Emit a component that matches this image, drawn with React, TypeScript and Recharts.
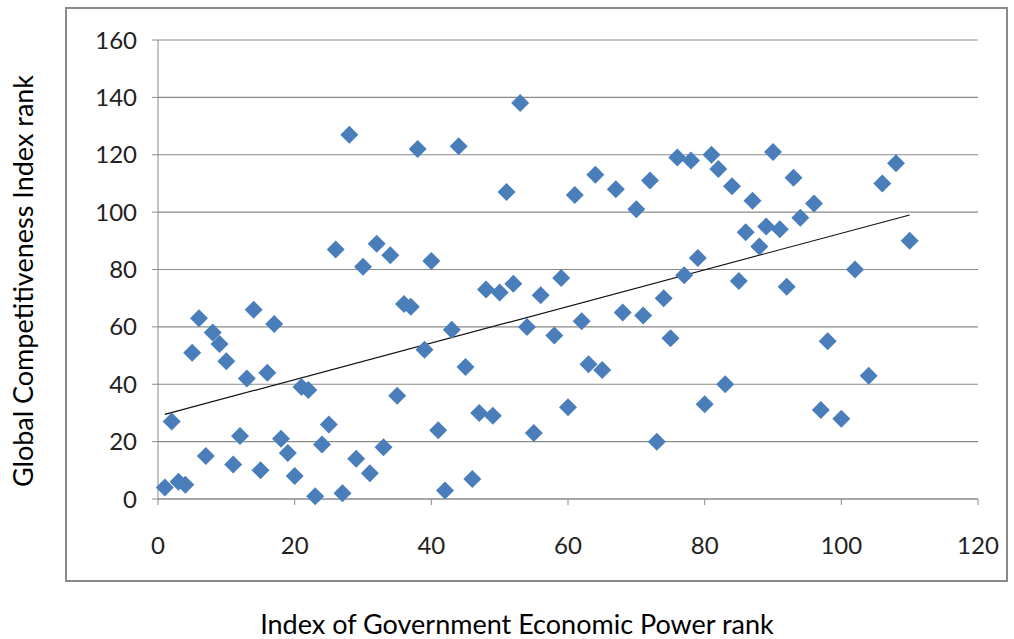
import React from 'react';
import { ScatterChart, Scatter, XAxis, YAxis, CartesianGrid, ReferenceLine } from 'recharts';

// Index of Government Economic Power rank (x)
const govPowerRank = [
  1, 2, 3, 4, 5, 6, 7, 8, 9, 10, 11, 12, 13, 14, 15, 16, 17, 18, 19, 20,
  21, 22, 23, 24, 25, 26, 27, 28, 29, 30, 31, 32, 33, 34, 35, 36, 37, 38, 39, 40,
  41, 42, 43, 44, 45, 46, 47, 48, 49, 50, 51, 52, 53, 54, 55, 56, 58, 59, 60, 61,
  62, 63, 64, 65, 67, 68, 70, 71, 72, 73, 74, 75, 76, 77, 78, 79, 80, 81, 82, 83,
  84, 85, 86, 87, 88, 89, 90, 91, 92, 93, 94, 96, 97, 98, 100, 102, 104, 106, 108, 110,
];

// Global Competitiveness Index rank (y)
const competitivenessRank = [
  4, 27, 6, 5, 51, 63, 15, 58, 54, 48, 12, 22, 42, 66, 10, 44, 61, 21, 16, 8,
  39, 38, 1, 19, 26, 87, 2, 127, 14, 81, 9, 89, 18, 85, 36, 68, 67, 122, 52, 83,
  24, 3, 59, 123, 46, 7, 30, 73, 29, 72, 107, 75, 138, 60, 23, 71, 57, 77, 32, 106,
  62, 47, 113, 45, 108, 65, 101, 64, 111, 20, 70, 56, 119, 78, 118, 84, 33, 120, 115, 40,
  109, 76, 93, 104, 88, 95, 121, 94, 74, 112, 98, 103, 31, 55, 28, 80, 43, 110, 117, 90,
];

const xTicks = [0, 20, 40, 60, 80, 100, 120];
const yTicks = [0, 20, 40, 60, 80, 100, 120, 140, 160];

const points = govPowerRank.map((x, i) => ({ x, y: competitivenessRank[i] }));

// linear trendline (least squares) over the data
const n = points.length;
const meanX = points.reduce((s, p) => s + p.x, 0) / n;
const meanY = points.reduce((s, p) => s + p.y, 0) / n;
const slope =
  points.reduce((s, p) => s + (p.x - meanX) * (p.y - meanY), 0) /
  points.reduce((s, p) => s + (p.x - meanX) ** 2, 0);
const intercept = meanY - slope * meanX;
const xMin = Math.min(...govPowerRank);
const xMax = Math.max(...govPowerRank);

const FONT = 'Lato, "Open Sans", sans-serif';
const GRAY = '#8a8a8a';

const Diamond = (props: any) => {
  const { cx, cy } = props;
  const r = 9;
  return (
    <polygon
      points={`${cx},${cy - r} ${cx + r},${cy} ${cx},${cy + r} ${cx - r},${cy}`}
      fill="#4A7EBB"
    />
  );
};

export default function App() {
  return (
    <div style={{ position: 'absolute', left: 0, top: 0, width: 1014, height: 639, background: '#fff', fontFamily: FONT }}>
      {/* chart frame */}
      <div
        style={{
          position: 'absolute', left: 65, top: 7, width: 943, height: 575,
          border: `2px solid ${GRAY}`, boxSizing: 'border-box',
        }}
      />
      <div style={{ position: 'absolute', left: 0, top: 0 }}>
        <ScatterChart width={1014} height={639} margin={{ top: 40, right: 36, bottom: 0, left: 0 }}>
          <CartesianGrid vertical={false} stroke={GRAY} strokeWidth={1.2} />
          <XAxis
            type="number"
            dataKey="x"
            domain={[0, 120]}
            ticks={xTicks}
            height={140}
            tickSize={6}
            tickMargin={32}
            stroke={GRAY}
            tick={{ fontSize: 24, fill: '#222', fontFamily: FONT }}
          />
          <YAxis
            type="number"
            dataKey="y"
            domain={[0, 160]}
            ticks={yTicks}
            width={158}
            tickSize={6}
            tickMargin={15}
            stroke={GRAY}
            tick={{ fontSize: 24, fill: '#222', fontFamily: FONT }}
          />
          <Scatter data={points} shape={Diamond} isAnimationActive={false} />
          <ReferenceLine
            segment={[
              { x: xMin, y: intercept + slope * xMin },
              { x: xMax, y: intercept + slope * xMax },
            ]}
            stroke="#111"
            strokeWidth={1.2}
          />
        </ScatterChart>
      </div>
      <div
        style={{
          position: 'absolute', left: 22, top: 281, transform: 'translate(-50%, -50%) rotate(-90deg)',
          whiteSpace: 'nowrap', fontSize: 27, lineHeight: 1, color: '#000',
        }}
      >
        Global Competitiveness Index rank
      </div>
      <div
        style={{
          position: 'absolute', left: 517, top: 623, transform: 'translate(-50%, -50%)',
          whiteSpace: 'nowrap', fontSize: 27, lineHeight: 1, color: '#000',
        }}
      >
        Index of Government Economic Power rank
      </div>
    </div>
  );
}
